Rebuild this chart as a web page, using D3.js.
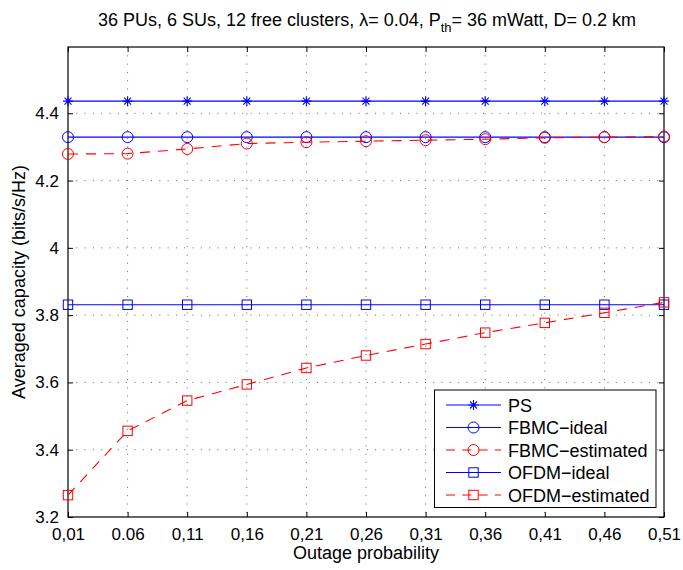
<!DOCTYPE html>
<html><head><meta charset="utf-8">
<script src="https://cdn.jsdelivr.net/npm/d3@7/dist/d3.min.js"></script>
<style>
body{margin:0;background:#fff;}
text{font-family:"Liberation Sans",Arial,sans-serif;}
</style></head>
<body><svg id="chart" width="683" height="570"></svg>
<script>
const xValues = [0.01,0.06,0.11,0.16,0.21,0.26,0.31,0.36,0.41,0.46,0.51];
const xTickLabels = ["0,01","0.06","0,11","0,16","0,21","0,26","0,31","0,36","0,41","0,46","0,51"];
const yTicks = [3.2,3.4,3.6,3.8,4,4.2,4.4];
const psValues = [4.436,4.436,4.436,4.436,4.436,4.436,4.436,4.436,4.436,4.436,4.436];
const fbmcIdeal = [4.329,4.329,4.329,4.329,4.329,4.329,4.329,4.329,4.329,4.329,4.329];
const fbmcEst = [4.279,4.280,4.294,4.310,4.314,4.317,4.320,4.323,4.327,4.329,4.331];
const ofdmIdeal = [3.831,3.831,3.831,3.831,3.831,3.831,3.831,3.831,3.831,3.831,3.831];
const ofdmEst = [3.265,3.456,3.546,3.594,3.643,3.680,3.714,3.748,3.777,3.807,3.838];
const seriesNames = ["PS","FBMC\u2212ideal","FBMC\u2212estimated","OFDM\u2212ideal","OFDM\u2212estimated"];

const svg = d3.select("#chart");
const L=68,R=664,T=47,B=517;
const x = d3.scaleLinear().domain([0.01,0.51]).range([L,R]);
const y = d3.scaleLinear().domain([3.2,4.597]).range([B,T]);

// grid
const grid = svg.append("g").attr("stroke","#000").attr("stroke-width",1).attr("stroke-dasharray","1,7.3").attr("opacity",0.6);
xValues.slice(1,-1).forEach(v=>grid.append("line").attr("x1",x(v)).attr("x2",x(v)).attr("y1",T).attr("y2",B));
yTicks.slice(1).forEach(v=>grid.append("line").attr("x1",L).attr("x2",R).attr("y1",y(v)).attr("y2",y(v)));

// axes
const xAxis = d3.axisBottom(x).tickValues(xValues).tickFormat((d,i)=>xTickLabels[i]).tickSizeInner(-5).tickSizeOuter(0).tickPadding(11);
const gx = svg.append("g").attr("transform",`translate(0,${B})`).call(xAxis);
const gxt = svg.append("g").attr("transform",`translate(0,${T})`).call(d3.axisTop(x).tickValues(xValues).tickFormat("").tickSizeInner(-5).tickSizeOuter(0));
const yAxis = d3.axisLeft(y).tickValues(yTicks).tickFormat(d=>d===4?"4":d3.format(".1f")(d)).tickSizeInner(-5).tickSizeOuter(0).tickPadding(9);
const gy = svg.append("g").attr("transform",`translate(${L},0)`).call(yAxis);
const gyr = svg.append("g").attr("transform",`translate(${R},0)`).call(d3.axisRight(y).tickValues(yTicks).tickFormat("").tickSizeInner(-5).tickSizeOuter(0));
[gx,gxt,gy,gyr].forEach(g=>{g.selectAll("path").remove();g.selectAll("line").attr("stroke","#000");g.selectAll("text").attr("font-size",17).attr("fill","#000").attr("font-family","Liberation Sans, Arial, sans-serif");});
svg.append("rect").attr("x",L).attr("y",T).attr("width",R-L).attr("height",B-T).attr("fill","none").attr("stroke","#000").attr("stroke-width",1.2);

// series
const series = [
 {vals:psValues,color:"#0000ff",dash:null,marker:"star"},
 {vals:fbmcIdeal,color:"#0000ff",dash:null,marker:"circle"},
 {vals:fbmcEst,color:"#ff0000",dash:"10,8",marker:"circle"},
 {vals:ofdmIdeal,color:"#0000ff",dash:null,marker:"square"},
 {vals:ofdmEst,color:"#ff0000",dash:"10,8",marker:"square"}
];
function drawMarker(g,type,cx,cy,color){
  if(type==="circle") g.append("circle").attr("cx",cx).attr("cy",cy).attr("r",5.5).attr("fill","none").attr("stroke",color).attr("stroke-width",1);
  else if(type==="square") g.append("rect").attr("x",cx-4.7).attr("y",cy-4.7).attr("width",9.4).attr("height",9.4).attr("fill","none").attr("stroke",color).attr("stroke-width",1);
  else {
    const s=5;
    g.append("path").attr("d",`M${cx-s},${cy}H${cx+s}M${cx},${cy-s}V${cy+s}M${cx-s*0.7},${cy-s*0.7}L${cx+s*0.7},${cy+s*0.7}M${cx-s*0.7},${cy+s*0.7}L${cx+s*0.7},${cy-s*0.7}`).attr("stroke",color).attr("stroke-width",1.1).attr("fill","none");
  }
}
const line = d3.line().x((d,i)=>x(xValues[i])).y(d=>y(d));
series.forEach(s=>{
  const g = svg.append("g");
  g.append("path").datum(s.vals).attr("d",line).attr("fill","none").attr("stroke",s.color).attr("stroke-width",1.1).attr("stroke-dasharray",s.dash);
  s.vals.forEach((v,i)=>drawMarker(g,s.marker,x(xValues[i]),y(v),s.color));
});

// legend
const lg = svg.append("g");
lg.append("rect").attr("x",434.5).attr("y",390).attr("width",221.5).attr("height",117.5).attr("fill","#fff").attr("stroke","#000").attr("stroke-width",1);
series.forEach((s,i)=>{
  const yy = 405 + i*22.5;
  lg.append("line").attr("x1",446).attr("x2",501).attr("y1",yy).attr("y2",yy).attr("stroke",s.color).attr("stroke-width",1.1).attr("stroke-dasharray",s.dash?"9,7.3":null);
  drawMarker(lg,s.marker,473.5,yy,s.color);
  lg.append("text").attr("x",508).attr("y",yy+6.5).attr("font-size",18).text(seriesNames[i]);
});

// labels
svg.append("text").attr("x",(L+R)/2).attr("y",559).attr("text-anchor","middle").attr("font-size",18).text("Outage probability");
svg.append("text").attr("transform",`translate(25,${(T+B)/2}) rotate(-90)`).attr("text-anchor","middle").attr("font-size",18).text("Averaged capacity (bits/s/Hz)");
const title = svg.append("text").attr("x",367).attr("y",26).attr("text-anchor","middle").attr("font-size",18);
title.append("tspan").text("36 PUs, 6 SUs, 12 free clusters, \u03bb= 0.04, P");
title.append("tspan").attr("font-size",13).attr("dy",6).text("th");
title.append("tspan").attr("dy",-6).text("= 36 mWatt, D= 0.2 km");
</script></body></html>
